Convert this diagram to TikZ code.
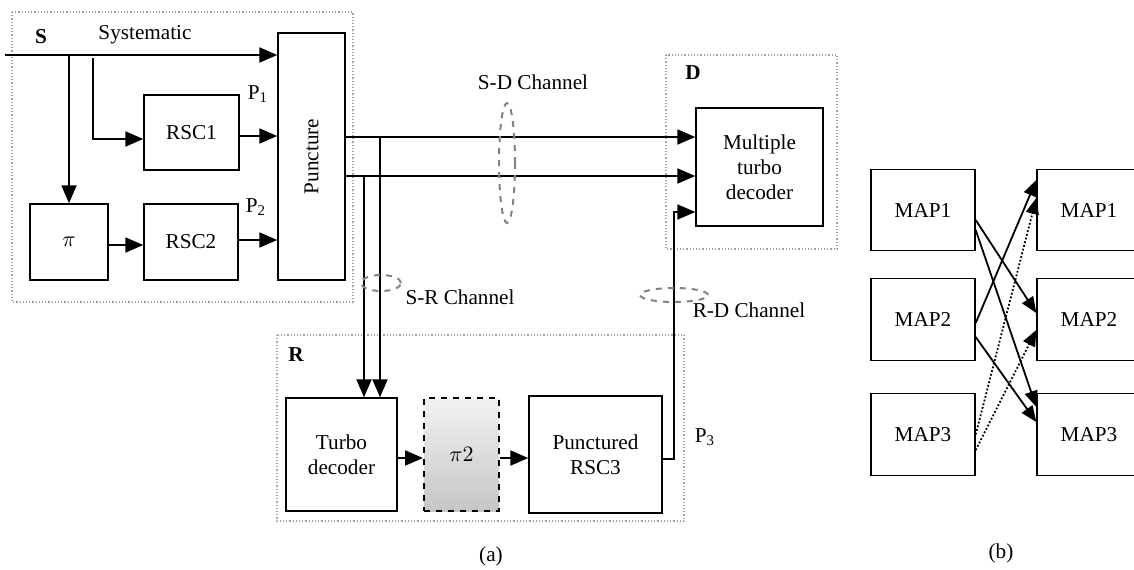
\documentclass[tikz,border=0pt]{standalone}
\usepackage{fontspec}
\setmainfont{Liberation Serif}
\usetikzlibrary{arrows.meta, positioning, calc}
\definecolor{framegray}{RGB}{160,160,160}
\definecolor{changray}{RGB}{130,130,130}

\begin{document}
\fontsize{10.6}{12.6}\selectfont
\begin{tikzpicture}[x=0.5pt, y=-0.5pt, >={Triangle[length=9pt, width=7.5pt]},
  blk/.style={draw, line width=0.7pt, align=center, inner sep=0pt},
  frame/.style={draw=framegray, densely dotted, line width=0.6pt},
  sig/.style={line width=1pt},
  chan/.style={draw=changray, dashed, line width=1pt},
  maparr/.style={line width=0.9pt, ->, >={Triangle[length=8pt, width=6.5pt]}}]
  \useasboundingbox (0,0) rectangle (1134,569);
  \clip (0,0) rectangle (1134,569);
  % Frames
  \draw[frame] (12,12) rectangle (353,302);
  \draw[frame] (666,55) rectangle (837,249);
  \draw[frame] (277,335) rectangle (684,521);
  \node (slab) at (41,37) {\textbf{S}};
  \node (dlab) at (693,73) {\textbf{D}};
  \node (rlab) at (296,355) {\textbf{R}};
  % Source blocks
  \node[blk, minimum width=33.5pt, minimum height=123.5pt] (punct) at (311.5,156.5) {};
  \node[rotate=90] (punctxt) at (punct.center) {Puncture};
  \node[blk, minimum width=47.5pt, minimum height=37.5pt] (rsc1) at (191.5,132.5) {RSC1};
  \node[blk, minimum width=39pt, minimum height=38pt] (pi) at (69,242) {$\pi$};
  \node[blk, minimum width=47pt, minimum height=38pt] (rsc2) at (191,242) {RSC2};
  \node (sys) at (145,35) {Systematic};
  \node (p1) at (258,94) {P\textsubscript{1}};
  \node (p2) at (256,207) {P\textsubscript{2}};
  % Destination and relay blocks
  \node[blk, minimum width=63.5pt, minimum height=59pt] (mtd) at (759.5,167) {Multiple\\turbo\\decoder};
  \node[blk, minimum width=55.5pt, minimum height=56.5pt] (td) at (341.5,454.5) {Turbo\\decoder};
  \node[blk, dashed, line width=1pt, top color=gray!10, bottom color=gray!45,
        minimum width=37.5pt, minimum height=56.5pt] (pi2) at (461.5,454.5) {$\pi2$};
  \node[blk, minimum width=66.5pt, minimum height=58.5pt] (rsc3) at (595.5,454.5) {Punctured\\RSC3};
  \node (p3) at (705,437) {P\textsubscript{3}};
  % Encoder connections
  \coordinate (sin) at (5,55);
  \coordinate (tap1) at (93,58);
  \draw[sig,->] (sin) -- (sin -| punct.west);
  \draw[sig,->] (pi.north |- sin) -- (pi.north);
  \draw[sig,->] (tap1) |- ([yshift=-3.25pt]rsc1.west);
  \draw[sig,->] ([yshift=-1.75pt]rsc1.east) -- ([yshift=-1.75pt]rsc1.east -| punct.west);
  \draw[sig,->] ([yshift=-1.5pt]pi.east) -- ([yshift=-1.5pt]pi.east -| rsc2.west);
  \draw[sig,->] ([yshift=1pt]rsc2.east) -- ([yshift=1pt]rsc2.east -| punct.west);
  % Channels
  \coordinate (o1) at ([yshift=9.75pt]punct.east);
  \coordinate (o2) at ([yshift=-9.75pt]punct.east);
  \coordinate (d1) at ([xshift=19.25pt]td.north);
  \coordinate (d2) at ([xshift=11.25pt]td.north);
  \coordinate (p3in) at ([yshift=-22.5pt]mtd.west);
  \draw[sig,->] (o1) -- (o1 -| mtd.west);
  \draw[sig,->] (o2) -- (o2 -| mtd.west);
  \draw[sig,->] (d1 |- o1) -- (d1);
  \draw[sig,->] (d2 |- o2) -- (d2);
  \draw[sig,->] ([yshift=-1.75pt]td.east) -- ([yshift=-1.75pt]td.east -| pi2.west);
  \draw[sig,->] ([yshift=-1.75pt]pi2.east) -- ([yshift=-1.75pt]pi2.east -| rsc3.west);
  \draw[sig,->] ([yshift=-2.25pt]rsc3.east) -- ++(11,0) |- (p3in);
  \draw[chan] (507,163) ellipse [x radius=4pt, y radius=30pt];
  \draw[chan] (381,283) ellipse [x radius=10pt, y radius=4pt];
  \draw[chan] (674,295) ellipse [x radius=17pt, y radius=3.5pt];
  \node (sdch) at (533,82) {S-D Channel};
  \node (srch) at (460,297) {S-R Channel};
  \node (rdch) at (749,310) {R-D Channel};
  \node (capa) at (491,556) {(a)};
  % MAP exchange
  \foreach \i/\y in {1/210, 2/319.5, 3/434.5} {
    \node[blk, minimum width=52pt, minimum height=40.75pt] (mapL\i) at (923,\y) {MAP\i};
    \node[blk, minimum width=52pt, minimum height=40.75pt] (mapR\i) at (1089,\y) {MAP\i};
  }
  \draw[maparr] ([yshift=-5pt]mapL1.east) -- ([yshift=3.25pt]mapR2.west);
  \draw[maparr] ([yshift=-10pt]mapL1.east) -- ([yshift=13.75pt]mapR3.west);
  \draw[maparr] ([yshift=-1.75pt]mapL2.east) -- ([yshift=15pt]mapR1.west);
  \draw[maparr] ([yshift=-8.75pt]mapL2.east) -- ([yshift=6.25pt]mapR3.west);
  \draw[maparr, densely dotted] (mapL3.east) -- ([yshift=6pt]mapR1.west);
  \draw[maparr, densely dotted] ([yshift=-7.75pt]mapL3.east) -- ([yshift=-5.25pt]mapR2.west);
  \node (capb) at (1001,553) {(b)};
\end{tikzpicture}
\end{document}
